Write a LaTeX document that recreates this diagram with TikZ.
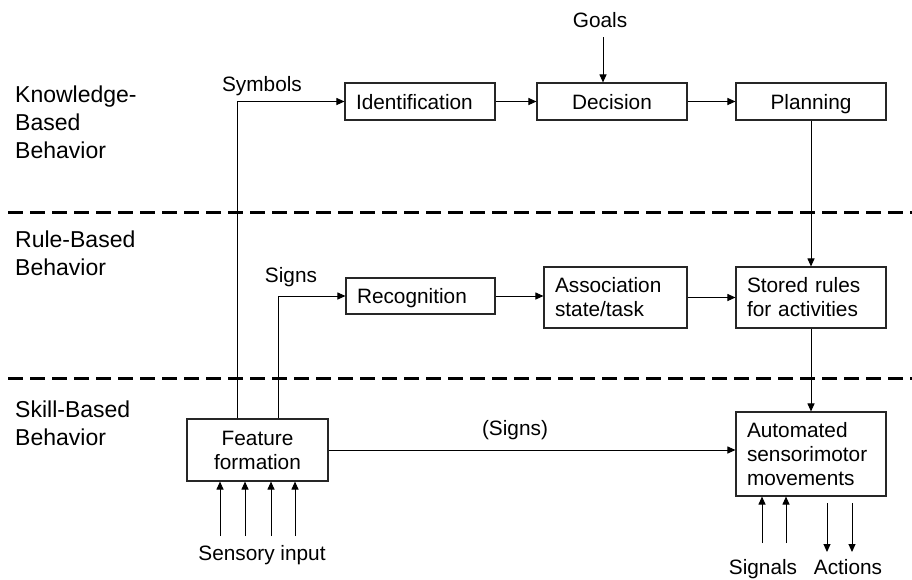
\documentclass[tikz,border=0pt]{standalone}
\usepackage{fontspec}
\setmainfont{Liberation Sans}
\usetikzlibrary{arrows.meta,calc}
\begin{document}
\begin{tikzpicture}[x=1pt,y=-1pt,
  boxfont/.style={font=\fontsize{20.8}{24}\selectfont},
  bigfont/.style={font=\fontsize{23}{28}\selectfont},
  box/.style={draw=black!85, line width=1.1pt, inner sep=0pt, boxfont},
  onebox/.style={box, minimum width=#1, text height=15pt, text depth=0pt},
  oneleft/.style={box, align=left, inner xsep=11pt, text width=#1, text height=15pt, text depth=0pt},
  leftbox/.style={box, align=left, inner xsep=11pt, text width=#1},
  arr/.style={line width=1pt, -{Triangle[length=8pt,width=7pt]}},
  dashline/.style={line width=3pt, dash pattern=on 15pt off 7pt},
  lbl/.style={inner sep=0pt, boxfont},
  side/.style={inner sep=0pt, anchor=base west, bigfont}
]
\useasboundingbox (0,0) rectangle (912,579);

% level separators
\coordinate (d1a) at (8,212);   \coordinate (d1b) at (912,212);
\coordinate (d2a) at (8,378);   \coordinate (d2b) at (912,378);
\draw[dashline] (d1a) -- (d1b);
\draw[dashline] (d2a) -- (d2b);

% side labels
\node[side] (k1) at (15,102) {Knowledge-};
\node[side] (k2) at (15,130) {Based};
\node[side] (k3) at (15,158) {Behavior};
\node[side] (r1) at (15,247) {Rule-Based};
\node[side] (r2) at (15,275) {Behavior};
\node[side] (s1) at (15,417) {Skill-Based};
\node[side] (s2) at (15,445) {Behavior};

% boxes
\node[oneleft=128pt, minimum height=37pt] (ident) at (420,101.5) {Identification};
\node[onebox=150pt, minimum height=37pt] (decis) at (612,101.5) {Decision};
\node[onebox=150pt, minimum height=37pt] (plan)  at (811,101.5) {Planning};
\node[oneleft=127pt, minimum height=36pt] (recog) at (420.5,296) {Recognition};
\node[leftbox=121pt, minimum height=61pt, minimum width=143pt] (assoc) at (615.5,297.5) {Association\\state/task};
\node[leftbox=128pt, minimum height=61pt, minimum width=150pt] (stored) at (811,297.5) {Stored rules\\for activities};
\node[box, align=center, minimum width=141pt, minimum height=62pt] (feat) at (257.5,450) {Feature\\formation};
\node[leftbox=128pt, minimum height=84pt, minimum width=150pt] (auto) at (811,454) {Automated\\sensorimotor\\movements};

% text labels
\node[lbl] (goals) at (600,20) {Goals};
\node[lbl] (symb) at (262,86) {Symbols};
\node[lbl] (signs) at (291,277) {Signs};
\node[lbl] (psigns) at (515,430) {(Signs)};
\node[lbl, anchor=base] (sens) at (262,560) {Sensory input};
\node[lbl, anchor=base] (sigl) at (763,574) {Signals};
\node[lbl, anchor=base] (actl) at (848,574) {Actions};

% connectors
\coordinate (symx) at (237,0);
\coordinate (sgnx) at (278,0);
\draw[arr] (feat.north -| symx) |- (ident.west);
\draw[arr] (feat.north -| sgnx) |- (recog.west);
\draw[arr] (ident) -- (decis);
\draw[arr] (decis) -- (plan);
\coordinate (gstart) at (603,37);
\draw[arr] (gstart) -- (gstart |- decis.north);
\draw[arr] (plan.south) -- (stored.north);
\draw[arr] (recog.east) -- (recog.east -| assoc.west);
\draw[arr] (assoc) -- (stored);
\draw[arr] (stored.south) -- (auto.north);
\draw[arr] (feat.east) -- (feat.east -| auto.west);

% sensory inputs
\foreach \i/\x in {1/220,2/245,3/271,4/295}{
  \coordinate (sin\i) at (\x,536);
  \draw[arr] (sin\i) -- (sin\i |- feat.south);
}
% signals
\foreach \i/\x in {1/762,2/786}{
  \coordinate (sg\i) at (\x,543);
  \draw[arr] (sg\i) -- (sg\i |- auto.south);
}
% actions
\foreach \i/\x in {1/827,2/852}{
  \coordinate (ac\i) at (\x,503);
  \coordinate (ae\i) at (\x,552);
  \draw[arr] (ac\i) -- (ae\i);
}
\end{tikzpicture}
\end{document}
